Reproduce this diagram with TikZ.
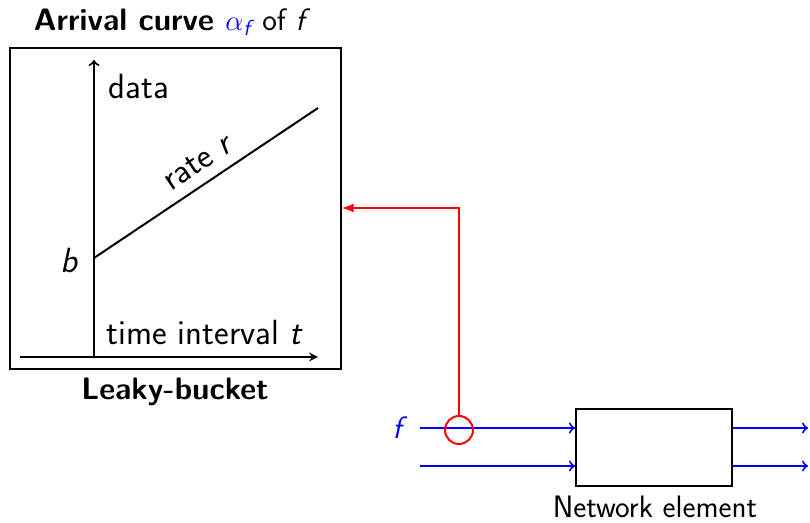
\documentclass[tikz,border=0pt]{standalone}
\usepackage{amsmath}
\usetikzlibrary{arrows}
\renewcommand{\familydefault}{\sfdefault}
\begin{document}
\begin{tikzpicture}[x=0.5pt,y=-0.5pt,font=\fontsize{15.5}{18}\selectfont,line width=1pt,
  plotbox/.style={draw,minimum width=165.5pt,minimum height=160.5pt,inner sep=0pt},
  plottext/.style={font=\fontsize{17.5}{20}\selectfont},
  elem/.style={draw,minimum width=78pt,minimum height=38.5pt,inner sep=0pt},
  flow/.style={blue,->},
  heading/.style={font=\bfseries\fontsize{15.5}{18}\selectfont}]
  \useasboundingbox (0,0) rectangle (810,523);
  % arrival curve panel
  \node[plotbox] (curve) at (175.5,208.5) {};
  \node[heading] (title) at (172,22) {Arrival curve \textcolor{blue}{$\alpha_{\textit{\mdseries f}}$} \textmd{of \textit{f}}};
  \node[heading] (kind) at (175,392) {Leaky-bucket};
  \coordinate (xs) at (20,357);
  \coordinate (xe) at (318,357);
  \coordinate (o) at (94,357);
  \coordinate (ye) at (94,60);
  \draw[-stealth] (xs) -- (xe);
  \draw[->] (o) -- (ye);
  \node[plottext,anchor=west] (data) at (101,87) {data};
  \node[plottext] (time) at (205,332) {time interval \textit{t}};
  \coordinate (b0) at (94,258);
  \coordinate (r1) at (318,108);
  \node[plottext,anchor=east] (burst) at (86,260) {\textit{b}};
  \draw (b0) -- (r1) node[plottext,pos=0.52,sloped,above=2pt] (rate) {rate \textit{r}};
  % network element
  \node[elem] (ne) at (654,447.5) {};
  \node (nelabel) at (655,507) {Network element};
  \coordinate (in1) at (420,428);
  \coordinate (in2) at (420,466);
  \coordinate (out1) at (808,428);
  \coordinate (out2) at (808,466);
  \node[blue] (flab) at (400,428) {\textit{f}};
  \draw[flow] (in1) -- (ne.west |- in1);
  \draw[flow] (in2) -- (ne.west |- in2);
  \draw[flow] (ne.east |- out1) -- (out1);
  \draw[flow] (ne.east |- out2) -- (out2);
  % observation point
  \node[draw=red,circle,minimum size=14pt,inner sep=0pt] (tap) at (459,430) {};
  \coordinate (hit) at (342,208);
  \draw[red,-latex] (tap.north) |- (hit);
\end{tikzpicture}
\end{document}
